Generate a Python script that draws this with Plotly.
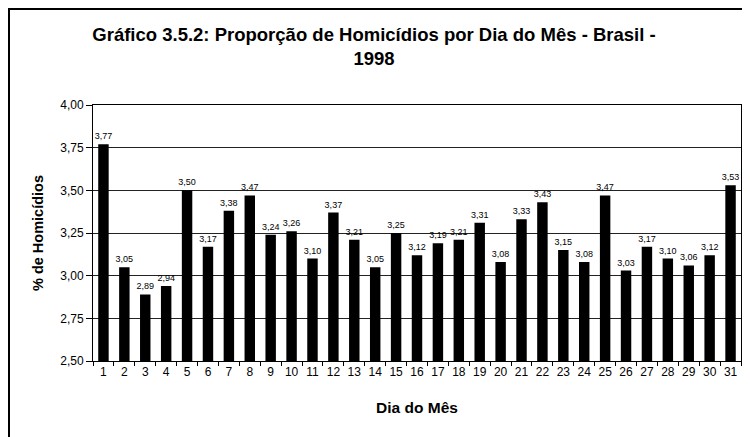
import plotly.graph_objects as go

days = [str(d) for d in range(1, 32)]
values = [3.77, 3.05, 2.89, 2.94, 3.50, 3.17, 3.38, 3.47, 3.24, 3.26, 3.10,
          3.37, 3.21, 3.05, 3.25, 3.12, 3.19, 3.21, 3.31, 3.08, 3.33, 3.43,
          3.15, 3.08, 3.47, 3.03, 3.17, 3.10, 3.06, 3.12, 3.53]
y_ticks = [2.50, 2.75, 3.00, 3.25, 3.50, 3.75, 4.00]

fig = go.Figure(go.Bar(
    x=days, y=values,
    marker=dict(color="black", line=dict(width=0)),
    text=values, texttemplate="%{y:.2f}", textposition="outside",
    textfont=dict(family="Arial", size=9, color="black"),
    constraintext="none",
    cliponaxis=False,
))

# page has an 8px body margin; figure coords = page coords - 8
OFF = 8
L, R, T, B = 93 - OFF, 741 - OFF, 105 - OFF, 361 - OFF
W, H = 750 - OFF, 437 - OFF
pw, ph = R - L, B - T

fig.update_layout(
    width=W, height=H,
    margin=dict(l=L, r=W - R, t=T, b=H - B),
    paper_bgcolor="white", plot_bgcolor="white",
    separators=",.",
    bargap=0.5,
    showlegend=False,
    font=dict(family="Arial", color="black"),
    title=dict(
        text="<b>Gráfico 3.5.2: Proporção de Homicídios por Dia do Mês - Brasil -<br>1998</b>",
        x=(374 - OFF) / W, xref="container", xanchor="center",
        y=1 - (41 - OFF) / H, yref="container", yanchor="middle",
        font=dict(family="Arial", size=18.5, color="black"),
    ),
    xaxis=dict(
        type="category", tickangle=0,
        ticks="outside", tickson="boundaries", ticklen=4, tickcolor="black",
        showline=True, linecolor="black", linewidth=1, mirror=True,
        tickfont=dict(family="Arial", size=12, color="black"),
        title=dict(text="<b>Dia do Mês</b>", font=dict(family="Arial", size=15.5), standoff=23),
    ),
    yaxis=dict(
        range=[2.5, 4.0], tickvals=y_ticks, tickformat=".2f",
        ticks="outside", ticklen=6, tickcolor="black",
        showline=True, linecolor="black", linewidth=1, mirror=True,
        showgrid=True, gridcolor="#222222", gridwidth=1,
        tickfont=dict(family="Arial", size=12, color="black"),
        title=dict(text="<b>% de Homicídios</b>", font=dict(family="Arial", size=14.5), standoff=13),
        zeroline=False,
    ),
)

# outer chart border (left and top visible, others off-canvas)
fig.add_shape(
    type="rect", xref="paper", yref="paper",
    x0=(1 - L) / pw, x1=(W + 5 - L) / pw,
    y0=(B - H - 5) / ph, y1=(B - 1) / ph,
    line=dict(color="black", width=2), fillcolor="rgba(0,0,0,0)", layer="below",
)

fig.write_html("out.html")
